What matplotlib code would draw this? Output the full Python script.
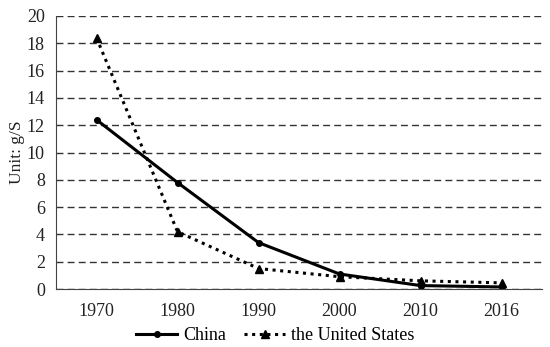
import matplotlib.pyplot as plt
import numpy as np

plt.rcParams["font.family"] = "Liberation Serif"

years = ["1970", "1980", "1990", "2000", "2010", "2016"]
china = [12.4, 7.8, 3.4, 1.1, 0.25, 0.15]
usa = [18.4, 4.2, 1.5, 0.9, 0.6, 0.45]

x = np.arange(len(years))

fig = plt.figure(figsize=(5.5, 3.47), dpi=100)
ax = fig.add_axes([56 / 550, 58 / 347, 486 / 550, 273 / 347])

ax.plot(x, china, color="black", linewidth=2.2, marker="o", markersize=4, label="China")
ax.plot(x, usa, color="black", linewidth=2.2, linestyle=(0, (1, 1.5)),
        marker="^", markersize=6, label="the United States")

ax.set_xlim(-0.5, len(years) - 0.5)
ax.set_ylim(0, 20)
ax.set_yticks(range(0, 21, 2))
ax.set_xticks(x)
ax.set_xticklabels(years)
ax.tick_params(length=0, labelsize=13, colors="#222222")
ax.tick_params(axis="x", pad=10)
ax.tick_params(axis="y", pad=8)
ax.grid(True, axis="y", linestyle=(0, (5, 3)), color="#333333", linewidth=1)
ax.set_axisbelow(True)
for side in ["top", "right"]:
    ax.spines[side].set_visible(False)
ax.spines["left"].set_color("#444444")
ax.spines["bottom"].set_color("#444444")
ax.set_ylabel("Unit: g/S", fontsize=12.5, color="#222222", labelpad=1)

fig.legend(loc="center", bbox_to_anchor=(0.5, 1 - 336 / 347), ncol=2, frameon=False,
           fontsize=13, handlelength=2.3, handletextpad=0.3, columnspacing=1.0)

fig.savefig("out.png", dpi=100)
